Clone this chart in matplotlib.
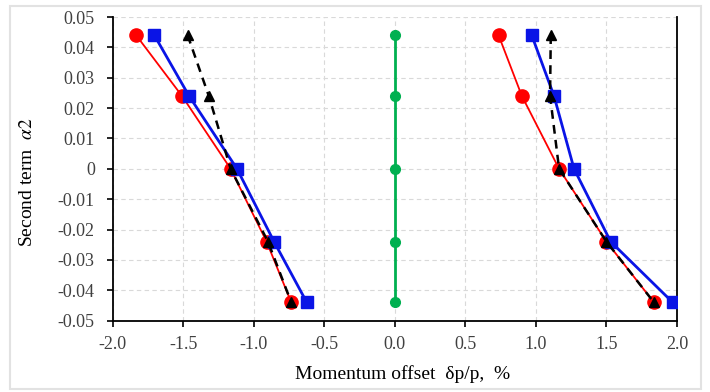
import matplotlib.pyplot as plt
from matplotlib.patches import Rectangle
from matplotlib.ticker import FuncFormatter

plt.rcParams['font.family'] = ['Liberation Serif', 'DejaVu Serif']
plt.rcParams['mathtext.fontset'] = 'stix'

# vertical positions (second-order term)
alpha2 = [0.044, 0.024, 0.0, -0.024, -0.044]

# momentum offsets, negative and positive branches
red_neg = [-1.835, -1.51, -1.165, -0.91, -0.735]
red_pos = [0.735, 0.90, 1.164, 1.50, 1.837]
blue_neg = [-1.706, -1.46, -1.12, -0.857, -0.625]
blue_pos = [0.97, 1.128, 1.27, 1.53, 1.97]
black_neg = [-1.47, -1.32, -1.165, -0.90, -0.735]
black_pos = [1.105, 1.10, 1.164, 1.50, 1.837]
green = [0.0, 0.0, 0.0, 0.0, 0.0]

fig = plt.figure(figsize=(7.1, 3.92), dpi=100)
fig.patches.append(Rectangle((10 / 710, 1 - 389 / 392), 691 / 710, 383 / 392,
                             transform=fig.transFigure, fill=False,
                             edgecolor='#e2e2e2', linewidth=1.5))
ax = fig.add_axes([0.159, 0.182, 0.7945, 0.7746])

for xs in (red_neg, red_pos):
    ax.plot(xs, alpha2, color='#ff0000', lw=1.3, marker='o', ms=9.5, zorder=3)
for xs in (blue_neg, blue_pos):
    ax.plot(xs, alpha2, color='#0a14e6', lw=2, marker='s', ms=8.5, zorder=4)
for xs in (black_neg, black_pos):
    ax.plot(xs, alpha2, color='black', lw=1.8, ls=(0, (3.5, 2.5)), marker='^',
            ms=6.5, zorder=5)
ax.plot(green, alpha2, color='#00b050', lw=2, marker='o', ms=7, zorder=3)

ax.set_xlim(-2.0, 2.0)
ax.set_ylim(-0.05, 0.05)
ax.set_xticks([-2.0, -1.5, -1.0, -0.5, 0.0, 0.5, 1.0, 1.5, 2.0])
ax.set_yticks([0.05, 0.04, 0.03, 0.02, 0.01, 0, -0.01, -0.02, -0.03, -0.04, -0.05])
ax.xaxis.set_major_formatter(FuncFormatter(lambda v, p: f'{v:.1f}'))
ax.yaxis.set_major_formatter(FuncFormatter(lambda v, p: '0' if abs(v) < 1e-9 else f'{v:.2f}'))

ax.grid(True, color='#d9d9d9', ls=(0, (4, 3)), lw=0.8)
ax.set_axisbelow(True)
ax.spines['top'].set_visible(False)
for s in ('left', 'bottom', 'right'):
    ax.spines[s].set_linewidth(1.3)
    ax.spines[s].set_color('black')
ax.tick_params(direction='out', length=4, width=1.2, labelsize=13,
               labelcolor='#404040')
ax.tick_params(axis='y', pad=9)
ax.tick_params(axis='x', pad=7)

ax.set_xlabel('Momentum offset  δp/p,  %', fontsize=14)
ax.set_ylabel(r'Second term  $\alpha2$', fontsize=14)
ax.xaxis.set_label_coords(0.514, -0.145)
ax.yaxis.set_label_coords(-0.136, 0.456)

fig.savefig('out.png', dpi=100)
